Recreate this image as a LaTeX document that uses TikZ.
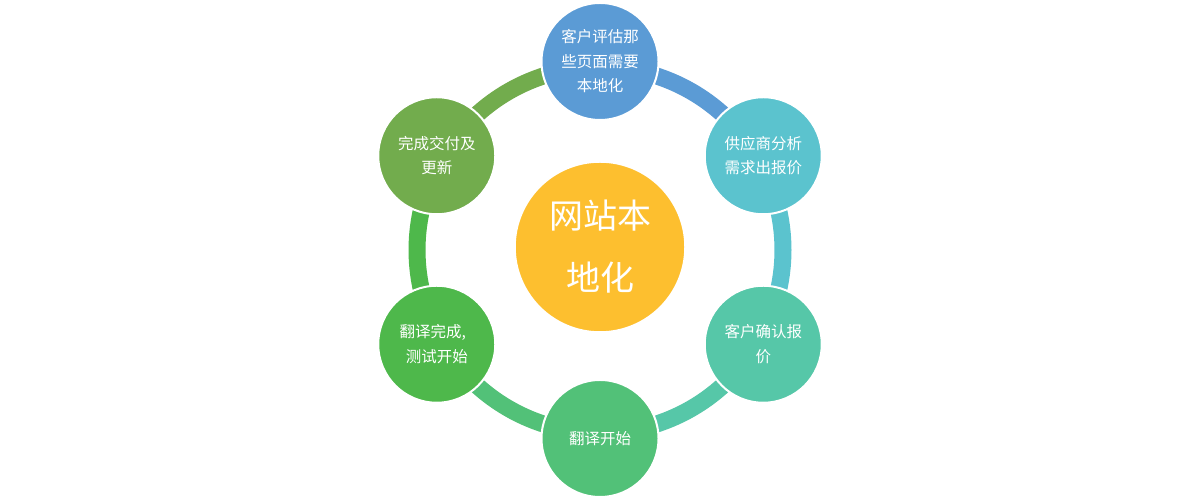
\documentclass[tikz,border=0pt]{standalone}
\usepackage{fontspec}
\setmainfont{Noto Sans CJK SC}
\definecolor{cblue}{HTML}{5B9BD5}
\definecolor{cteal}{HTML}{5BC3CE}
\definecolor{cmint}{HTML}{56C7A8}
\definecolor{cgreenb}{HTML}{52C178}
\definecolor{cgreenl}{HTML}{4EB84B}
\definecolor{cgreenu}{HTML}{72AC4D}
\definecolor{corange}{HTML}{FDBF2F}
\tikzset{
  stage/.style={circle, minimum size=117bp, inner sep=0pt, draw=white, line width=2bp,
    text=white, align=center, font=\fontsize{15.5bp}{24.5bp}\selectfont},
  hub/.style={circle, minimum size=170bp, inner sep=0pt, draw=white, line width=1.5bp, fill=corange,
    text=white, align=center, font=\fontsize{34bp}{62bp}\selectfont},
  ring/.style={line width=17bp}
}
\begin{document}
\begin{tikzpicture}[x=1bp,y=1bp]
\useasboundingbox (0,0) rectangle (1200,499);
\fill[white] (0,0) rectangle (1200,499);
\coordinate (c) at (600,249);
% ring segments
\draw[ring, cblue]   ([shift={(90:183)}]c) arc[start angle=90, end angle=30, radius=183];
\draw[ring, cteal]   ([shift={(30:183)}]c) arc[start angle=30, end angle=-30, radius=183];
\draw[ring, cmint]   ([shift={(-30:183)}]c) arc[start angle=-30, end angle=-90, radius=183];
\draw[ring, cgreenb] ([shift={(-90:183)}]c) arc[start angle=-90, end angle=-150, radius=183];
\draw[ring, cgreenl] ([shift={(-150:183)}]c) arc[start angle=-150, end angle=-210, radius=183];
\draw[ring, cgreenu] ([shift={(150:183)}]c) arc[start angle=150, end angle=90, radius=183];
% hub
\node[hub] (h) at ([yshift=3bp]c) {网站本\\地化};
% stages
\node[stage, fill=cblue]   (s1) at ([shift={(90:188.5)}]c) {客户评估那\\些页面需要\\本地化};
\node[stage, fill=cteal]   (s2) at ([shift={(30:188.5)}]c) {供应商分析\\需求出报价};
\node[stage, fill=cmint]   (s3) at ([shift={(-30:188.5)}]c) {客户确认报\\价};
\node[stage, fill=cgreenb] (s4) at ([shift={(-90:188.5)}]c) {翻译开始};
\node[stage, fill=cgreenl] (s5) at ([shift={(-150:188.5)}]c) {翻译完成,\hspace*{0.5em}\\测试开始};
\node[stage, fill=cgreenu] (s6) at ([shift={(150:188.5)}]c) {完成交付及\\更新};
\end{tikzpicture}
\end{document}
